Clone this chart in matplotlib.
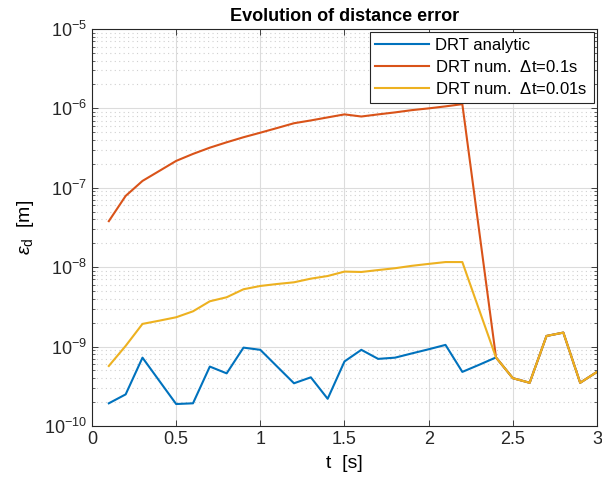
import numpy as np
import matplotlib
matplotlib.use("Agg")
import matplotlib.pyplot as plt
from matplotlib.ticker import LogLocator, NullFormatter, FixedLocator, FixedFormatter

plt.rcParams['font.family'] = ['Liberation Sans', 'DejaVu Sans']
plt.rcParams['mathtext.fontset'] = 'custom'
plt.rcParams['mathtext.rm'] = 'Liberation Sans'
plt.rcParams['mathtext.it'] = 'Liberation Sans:italic'

t = [0.1, 0.2, 0.3, 0.4, 0.5, 0.6, 0.7, 0.8, 0.9, 1.0,
     1.1, 1.2, 1.3, 1.4, 1.5, 1.6, 1.7, 1.8, 1.9, 2.0,
     2.1, 2.2, 2.3, 2.4, 2.5, 2.6, 2.7, 2.8, 2.9, 3.0]

err_analytic = [1.93e-10, 2.5e-10, 7.25e-10, 3.7e-10, 1.89e-10, 1.93e-10, 5.6e-10, 4.6e-10, 9.7e-10, 9.1e-10,
                5.6e-10, 3.45e-10, 4.1e-10, 2.2e-10, 6.5e-10, 9.1e-10, 7.0e-10, 7.25e-10, 8.2e-10, 9.25e-10,
                1.05e-9, 4.8e-10, 5.9e-10, 7.3e-10, 4.0e-10, 3.5e-10, 1.36e-9, 1.5e-9, 3.5e-10, 4.8e-10]

err_num_01 = [3.8e-8, 7.9e-8, 1.22e-7, 1.63e-7, 2.18e-7, 2.67e-7, 3.2e-7, 3.74e-7, 4.33e-7, 4.94e-7,
              5.66e-7, 6.5e-7, 7.05e-7, 7.7e-7, 8.4e-7, 7.9e-7, 8.4e-7, 8.9e-7, 9.5e-7, 1.0e-6,
              1.06e-6, 1.13e-6, 2.87e-8, 7.3e-10, 4.0e-10, 3.5e-10, 1.36e-9, 1.5e-9, 3.5e-10, 4.8e-10]

err_num_001 = [5.7e-10, 1.02e-9, 1.93e-9, 2.12e-9, 2.34e-9, 2.78e-9, 3.72e-9, 4.18e-9, 5.27e-9, 5.8e-9,
               6.14e-9, 6.45e-9, 7.17e-9, 7.74e-9, 8.8e-9, 8.7e-9, 9.2e-9, 9.7e-9, 1.04e-8, 1.1e-8,
               1.16e-8, 1.16e-8, 2.9e-9, 7.3e-10, 4.0e-10, 3.5e-10, 1.36e-9, 1.5e-9, 3.5e-10, 4.8e-10]

xticks = [0, 0.5, 1, 1.5, 2, 2.5, 3]
xticklabels = ['0', '0.5', '1', '1.5', '2', '2.5', '3']

labels = ['DRT analytic', r'DRT num.  $\Delta$t=0.1s', r'DRT num.  $\Delta$t=0.01s']
colors = ['#0072BD', '#D95319', '#EDB120']

fig = plt.figure(figsize=(6.02, 4.87), dpi=100)
ax = fig.add_axes([0.1528, 0.1253, 0.8389, 0.8152])

for y, lab, c in zip([err_analytic, err_num_01, err_num_001], labels, colors):
    ax.plot(t, y, color=c, lw=1.5, label=lab)

ax.set_yscale('log')
ax.set_xlim(0, 3)
ax.set_ylim(1e-10, 1e-5)
ax.xaxis.set_major_locator(FixedLocator(xticks))
ax.xaxis.set_major_formatter(FixedFormatter(xticklabels))
ax.yaxis.set_major_locator(LogLocator(base=10, numticks=10))
ax.yaxis.set_minor_locator(LogLocator(base=10, subs=np.arange(2, 10), numticks=100))
ax.yaxis.set_minor_formatter(NullFormatter())

ax.grid(True, which='major', color='#dcdcdc', lw=0.8, ls='-')
ax.grid(True, which='minor', axis='y', color='#d0d0d0', lw=0.8, ls=(0, (1, 3)))
ax.set_axisbelow(True)

ax.tick_params(which='both', direction='in', top=True, right=True, labelsize=13, colors='#262626')
ax.tick_params(which='major', length=4, width=0.6)
ax.tick_params(which='minor', length=2.5, width=0.5)
for s in ax.spines.values():
    s.set_color('#262626')
    s.set_linewidth(0.8)

ax.set_title('Evolution of distance error', fontsize=13, fontweight='bold', pad=6)
ax.set_xlabel('t  [s]', fontsize=14, labelpad=5)
ax.set_ylabel(r'$\epsilon_\mathregular{d}$  [m]', fontsize=14, labelpad=6)

leg = ax.legend(loc='upper right', fontsize=12, frameon=True, fancybox=False,
                edgecolor='#262626', framealpha=1, handlelength=3.2, borderaxespad=0.2,
                labelspacing=0.35, borderpad=0.35, handletextpad=0.4)
leg.get_frame().set_linewidth(0.8)

fig.savefig('out.png', dpi=100)
